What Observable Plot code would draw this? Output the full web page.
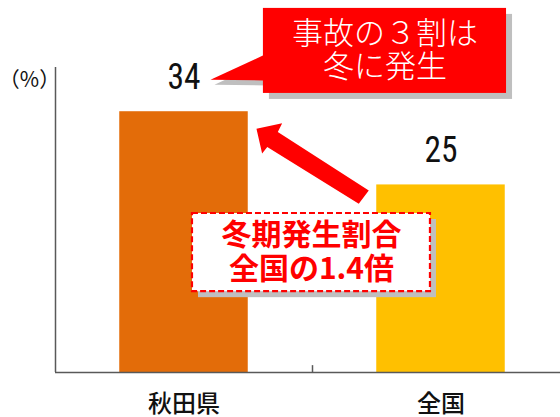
<!DOCTYPE html>
<html>
<head>
<meta charset="utf-8">
<script src="https://cdn.jsdelivr.net/npm/d3@7"></script>
<script src="https://cdn.jsdelivr.net/npm/@observablehq/plot@0.6"></script>
<style>
  html, body { margin: 0; padding: 0; background: #fff; }
  svg { display: block; }
</style>
</head>
<body>
<div id="chart"></div>
<script>
// ---- data ----
const categories = ["秋田県", "全国"];
const values = [34.2, 24.6];           // share of accidents in winter (%)
const valueLabels = ["34", "25"];
const barColors = ["#E36C09", "#FFC000"];
const unitLabel = "（%）";
const callout1Lines = ["事故の３割は", "冬に発生"];
const callout2Lines = ["冬期発生割合", "全国の1.4倍"];

// ---- annotation geometry (data units: x = category slot, y = %) ----
const box1 = {x1: 0.809, x2: 1.755, y1: 36.6, y2: 47.75};
const tail1 = [[0.603, 38.4], [0.809, 41.6], [0.809, 38.3]];
const box2 = {x1: 0.533, x2: 1.459, y1: 10.6, y2: 20.85};
const arrowShape = [
  [0.782, 31.96], [0.882, 32.70], [0.865, 31.55], [1.219, 23.87],
  [1.180, 22.12], [0.824, 29.59], [0.804, 28.72]
];

const barPad = 0.25;
const axisColor = "#595959";
const shadow = "#BFBFBF";
const red = "#FF0000";
const jp = "'Noto Sans CJK JP', 'Noto Sans', sans-serif";
const num = "'Roboto Condensed', 'Liberation Sans Narrow', 'Liberation Sans', Arial, sans-serif";

const bars = values.map((v, i) => ({cat: categories[i], i, v, label: valueLabels[i], color: barColors[i]}));

// one text mark per line, stacked around the box centre
function calloutText(lines, box, gap, opts) {
  return lines.map((line, i) => Plot.text([line], {
    x: (box.x1 + box.x2) / 2,
    y: (box.y1 + box.y2) / 2,
    text: d => d,
    dy: (i - (lines.length - 1) / 2) * gap,
    ...opts
  }));
}

const chart = Plot.plot({
  width: 560,
  height: 417,
  marginLeft: 55,
  marginRight: -9,
  marginTop: 67,
  marginBottom: 45,
  style: {background: "#fff", overflow: "visible"},
  x: {type: "linear", domain: [0, categories.length], axis: null},
  y: {domain: [0, 40], axis: null},
  color: {type: "identity"},
  marks: [
    // bars
    Plot.rectY(bars, {x1: d => d.i + barPad, x2: d => d.i + 1 - barPad, y1: 0, y2: "v", fill: "color"}),
    // axes lines
    Plot.ruleY([0], {stroke: axisColor, strokeWidth: 1.5}),
    Plot.ruleX([0], {stroke: axisColor, strokeWidth: 1.5}),
    Plot.ruleX([1], {y1: 0, y2: 0.9, stroke: axisColor, strokeWidth: 1.5}),
    // category axis
    Plot.axisX({
      ticks: categories.map((c, i) => i + 0.5),
      tickFormat: t => categories[Math.floor(t)],
      tickSize: 0,
      tickPadding: 22,
      fontSize: 24,
      fontFamily: jp,
      fontWeight: 500,
      fill: "#111",
      label: null
    }),
    // value labels
    Plot.text(bars, {x: d => d.i + 0.5, y: "v", text: "label", dy: -34, fontSize: 36, fontFamily: num, fill: "#111"}),
    // unit label
    Plot.text([unitLabel], {frameAnchor: "top-left", textAnchor: "middle", lineAnchor: "middle", dx: -26, dy: 13, fontSize: 21, fontFamily: jp, fill: "#111"}),
    // callout 1 (shadow + body)
    Plot.rect([box1], {x1: "x1", x2: "x2", y1: "y1", y2: "y2", fill: shadow, dx: 6, dy: 6}),
    Plot.line(tail1, {x: d => d[0], y: d => d[1], fill: shadow, stroke: null, dx: 4, dy: 5}),
    Plot.rect([box1], {x1: "x1", x2: "x2", y1: "y1", y2: "y2", fill: red}),
    Plot.line(tail1, {x: d => d[0], y: d => d[1], fill: red, stroke: null}),
    ...calloutText(callout1Lines, box1, 33, {fontSize: 31, fontFamily: jp, fontWeight: 300, fill: "#fff"}),
    // arrow
    Plot.line(arrowShape, {x: d => d[0], y: d => d[1], fill: red, stroke: null}),
    // callout 2 (shadow + dashed box)
    Plot.rect([box2], {x1: "x1", x2: "x2", y1: "y1", y2: "y2", fill: shadow, dx: 6, dy: 6}),
    Plot.rect([box2], {x1: "x1", x2: "x2", y1: "y1", y2: "y2", fill: "#fff", stroke: red, strokeWidth: 2.2, strokeDasharray: "6,3"}),
    ...calloutText(callout2Lines, box2, 34, {fontSize: 30, fontFamily: jp, fontWeight: "bold", fill: red})
  ]
});
// narrow the numeric value labels (condensed digits as in the original)
d3.select(chart).selectAll("text")
  .filter(function () { return valueLabels.includes(this.textContent); })
  .attr("textLength", 33)
  .attr("lengthAdjust", "spacingAndGlyphs");
document.getElementById("chart").appendChild(chart);
</script>
</body>
</html>
